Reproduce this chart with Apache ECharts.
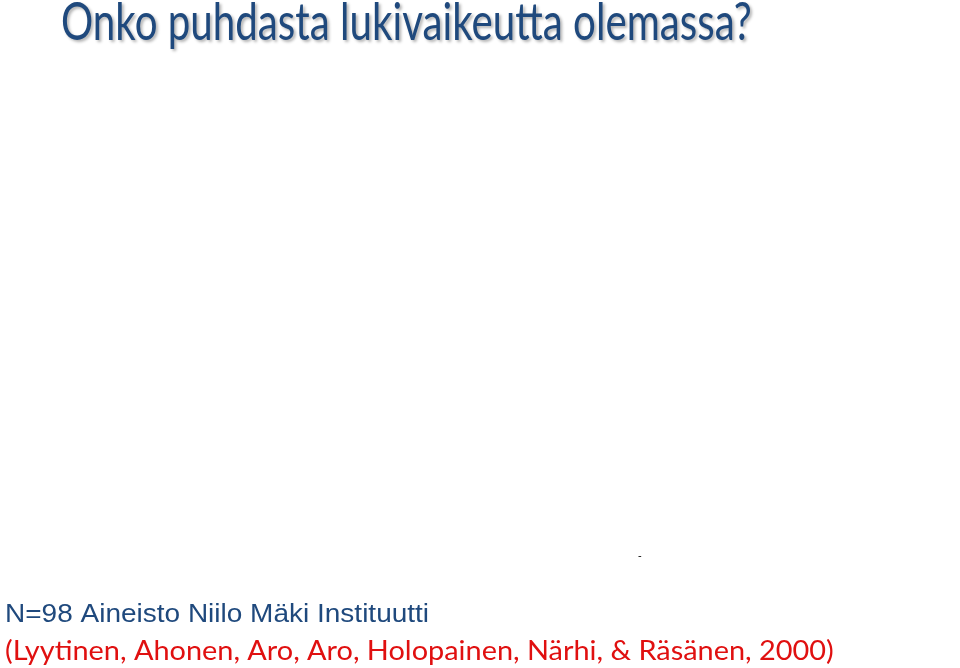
<!DOCTYPE html>
<html lang="fi" style="height: 100%">
<head>
  <meta charset="utf-8">
</head>
<body style="height: 100%; margin: 0; background: #fff">
  <div id="container" style="height: 100%"></div>

  <script type="text/javascript" src="https://cdn.jsdelivr.net/npm/echarts@6/dist/echarts.min.js"></script>

  <script type="text/javascript">
    // the chart area of the slide is empty: no categories or values are visible
    const categories = [];
    const values = [];

    const headline = 'Onko puhdasta lukivaikeutta olemassa?';
    const sourceLine = 'N=98 Aineisto Niilo Mäki Instituutti';
    const citeLine = '(Lyytinen, Ahonen, Aro, Aro, Holopainen, Närhi, & Räsänen, 2000)';
    const strayMark = '-';

    var dom = document.getElementById('container');
    var myChart = echarts.init(dom, null, { renderer: 'canvas' });

    // the slide text is stretched/squeezed sideways, so use graphic text with scaleX
    var option = {
      backgroundColor: '#ffffff',
      graphic: [
        {
          type: 'text',
          x: 61,
          y: -4,
          scaleX: 0.76,
          style: {
            text: headline,
            font: '53px Lato',
            fill: '#1f497d',
            verticalAlign: 'top',
            textShadowColor: 'rgba(0,0,0,0.3)',
            textShadowBlur: 3,
            textShadowOffsetX: 2,
            textShadowOffsetY: 2
          }
        },
        {
          type: 'text',
          x: 5,
          y: 603,
          scaleX: 1.12,
          style: {
            text: sourceLine,
            font: '25px "Liberation Sans"',
            fill: '#1f497d',
            verticalAlign: 'top'
          }
        },
        {
          type: 'text',
          x: 5,
          y: 638,
          scaleX: 1.07,
          style: {
            text: citeLine,
            font: '27px Lato',
            fill: '#e01010',
            verticalAlign: 'top'
          }
        },
        {
          type: 'text',
          x: 638,
          y: 550,
          style: {
            text: strayMark,
            font: '11px "Liberation Sans"',
            fill: '#000',
            verticalAlign: 'top'
          }
        }
      ],
      grid: { left: 60, right: 60, top: 90, bottom: 120 },
      xAxis: { type: 'category', data: categories, show: false },
      yAxis: { type: 'value', show: false },
      series: [{ type: 'bar', data: values }]
    };

    myChart.setOption(option);
    window.addEventListener('resize', myChart.resize);
  </script>
</body>
</html>
